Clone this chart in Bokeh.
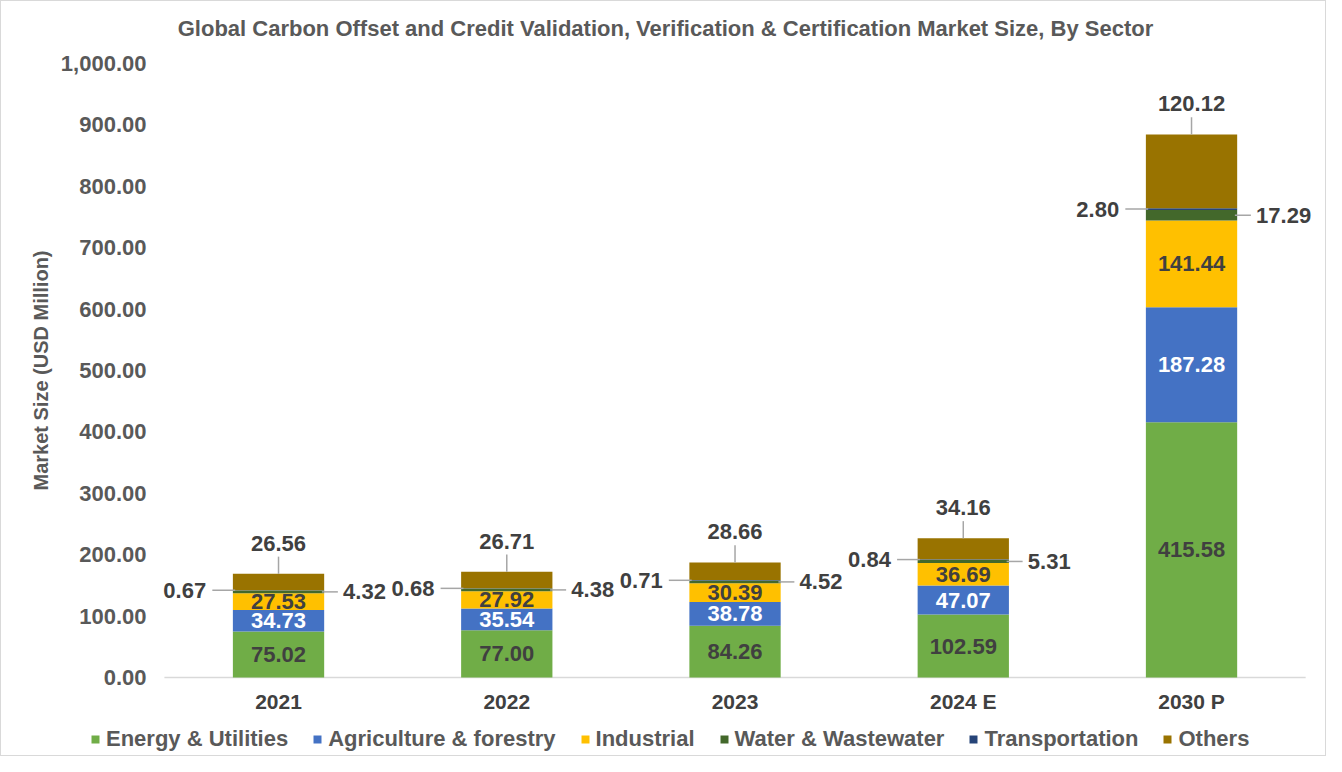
import math
from bokeh.plotting import figure
from bokeh.models import ColumnDataSource, Legend, LegendItem, Range1d
from bokeh.embed import file_html
from bokeh.resources import INLINE

# ---- data ----
years = ["2021", "2022", "2023", "2024 E", "2030 P"]
energy = [75.02, 77.00, 84.26, 102.59, 415.58]
agriculture = [34.73, 35.54, 38.78, 47.07, 187.28]
industrial = [27.53, 27.92, 30.39, 36.69, 141.44]
water = [4.32, 4.38, 4.52, 5.31, 17.29]
transportation = [0.67, 0.68, 0.71, 0.84, 2.80]
others = [26.56, 26.71, 28.66, 34.16, 120.12]
series_names = ["Energy & Utilities", "Agriculture & forestry", "Industrial",
                "Water & Wastewater", "Transportation", "Others"]
y_ticks = [0, 100, 200, 300, 400, 500, 600, 700, 800, 900, 1000]
title = "Global Carbon Offset and Credit Validation, Verification & Certification Market Size, By Sector"
y_title = "Market Size (USD Million)"

# ---- styles / layout ----
colors = ["#70AD47", "#4472C4", "#FFC000", "#43682B", "#264478", "#997300"]
FONT = "Liberation Sans"
TEXT_DARK = "#404040"
TEXT_GRAY = "#595959"
LEADER = "#A6A6A6"
LABEL_SIZE = "22px"
FIG_W, FIG_H = 1326, 756
X0_PX, PX_PER_X = 162.9, 228.25     # screen x of category origin, px per category
Y0_PX, PX_PER_Y = 676.0, 0.614      # screen y of value 0, px per unit

def px2x(px):
    return (px - X0_PX) / PX_PER_X

def py2y(py):
    return (Y0_PX - py) / PX_PER_Y

n = len(years)
xs = [i + 0.5 for i in range(n)]
keys = ["energy", "agri", "ind", "water", "trans", "others"]
series = [energy, agriculture, industrial, water, transportation, others]
data = {"x": xs}
for k, s in zip(keys, series):
    data[k] = s
src = ColumnDataSource(data)

p = figure(x_range=Range1d(px2x(0), px2x(FIG_W)), y_range=Range1d(py2y(FIG_H), py2y(0)),
           width=FIG_W, height=FIG_H, output_backend="svg", toolbar_location=None,
           x_axis_location=None, y_axis_location=None,
           min_border_left=0, min_border_right=0, min_border_top=0, min_border_bottom=0)
p.title.visible = False
p.styles = {"border": "1px solid #D9D9D9"}
p.xgrid.visible = False
p.ygrid.visible = False
p.outline_line_color = None

def txt(source, x, y, align, color=TEXT_DARK, size=LABEL_SIZE, angle=0):
    p.text(x=x, y=y, text="t", source=source, text_align=align, text_baseline="middle",
           text_font=dict(value=FONT), text_font_style="bold", text_font_size=size,
           text_color=color, angle=angle)

# ---- title ----
ttl = ColumnDataSource(dict(x=[px2x(664)], y=[py2y(27)], t=[title]))
txt(ttl, "x", "y", "center", TEXT_GRAY, "22px")

# ---- axes drawn by hand ----
p.segment(x0=[0], y0=[0], x1=[n], y1=[0], line_color="#D9D9D9", line_width=1.5)
ytl = ColumnDataSource(dict(x=[px2x(145)] * len(y_ticks), y=y_ticks,
                            t=[f"{v:,.2f}" for v in y_ticks]))
txt(ytl, "x", "y", "right", TEXT_GRAY, "22px")
xtl = ColumnDataSource(dict(x=xs, y=[py2y(700)] * n, t=years))
txt(xtl, "x", "y", "center", TEXT_DARK, "21px")
ytt = ColumnDataSource(dict(x=[px2x(39)], y=[py2y(369)], t=[y_title]))
txt(ytt, "x", "y", "center", TEXT_GRAY, "20px", angle=math.pi / 2)

# ---- bars ----
renderers = p.vbar_stack(keys, x="x", width=0.4, color=colors, line_color=None, source=src)

cum = [[0.0] * n]
for s in series:
    cum.append([a + b for a, b in zip(cum[-1], s)])

def mids(i):
    return [(cum[i][j] + cum[i + 1][j]) / 2 for j in range(n)]

fmt = lambda v: f"{v:.2f}"

for i, col in [(0, TEXT_DARK), (1, "#FFFFFF"), (2, TEXT_DARK)]:
    s = ColumnDataSource(dict(x=xs, y=mids(i), t=[fmt(v) for v in series[i]]))
    txt(s, "x", "y", "center", col)

# Others: above with vertical leader
tops = cum[6]
s_o = ColumnDataSource(dict(x=xs, y0=tops, y1=[t + 28 for t in tops], yt=[t + 50 for t in tops],
                            t=[fmt(v) for v in others]))
p.segment(x0="x", y0="y0", x1="x", y1="y1", source=s_o, line_color=LEADER, line_width=1.5)
txt(s_o, "x", "yt", "center")

# Transportation: left with leader
s_t = ColumnDataSource(dict(xl0=[x - 0.29 for x in xs], xl1=[x - 0.19 for x in xs],
                            xt=[x - 0.317 for x in xs], y=mids(4),
                            t=[fmt(v) for v in transportation]))
p.segment(x0="xl0", y0="y", x1="xl1", y1="y", source=s_t, line_color=LEADER, line_width=1.5)
txt(s_t, "xt", "y", "right")

# Water: right with leader
s_w = ColumnDataSource(dict(xl0=[x + 0.19 for x in xs], xl1=[x + 0.26 for x in xs],
                            xt=[x + 0.283 for x in xs], y=mids(3),
                            t=[fmt(v) for v in water]))
p.segment(x0="xl0", y0="y", x1="xl1", y1="y", source=s_w, line_color=LEADER, line_width=1.5)
txt(s_w, "xt", "y", "left")

# ---- legend ----
items = [LegendItem(label=nm, renderers=[r]) for nm, r in zip(series_names, renderers)]
legend = Legend(items=items, orientation="horizontal", location=(89, 5),
                glyph_width=10, glyph_height=10, label_standoff=6, spacing=24,
                padding=0, margin=0, border_line_color=None, background_fill_alpha=0,
                label_text_font=FONT, label_text_font_style="bold", label_text_font_size="22px",
                label_text_color=TEXT_GRAY)
p.add_layout(legend, "center")

open("out.html", "w").write(file_html(p, INLINE))
